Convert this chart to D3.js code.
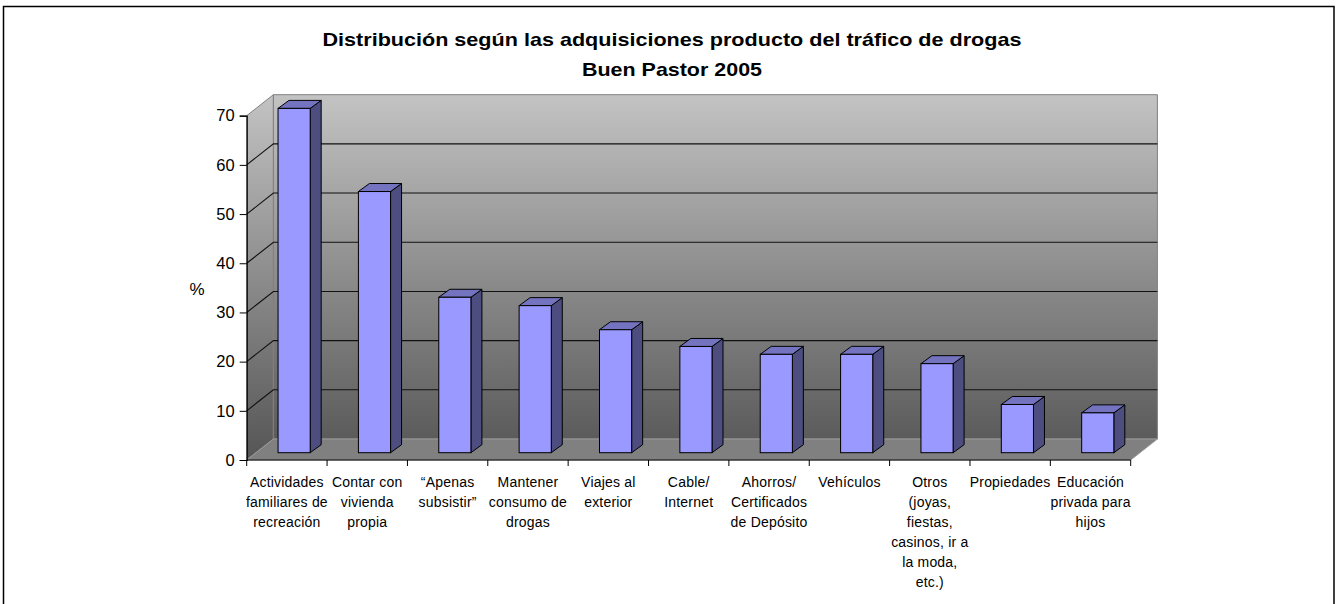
<!DOCTYPE html>
<html>
<head>
<meta charset="utf-8">
<script src="https://cdn.jsdelivr.net/npm/d3@7"></script>
<style>
  html, body { margin: 0; padding: 0; background: #fff; }
  svg { display: block; font-family: "Liberation Sans", Arial, sans-serif; }
</style>
</head>
<body>
<svg id="chart" width="1337" height="604"></svg>
<script>
// ---- Data ----
const titleLines = ["Distribución según las adquisiciones producto del tráfico de drogas", "Buen Pastor 2005"];
const categories = [
  "Actividades familiares de recreación",
  "Contar con vivienda propia",
  "“Apenas subsistir”",
  "Mantener consumo de drogas",
  "Viajes al exterior",
  "Cable/ Internet",
  "Ahorros/ Certificados de Depósito",
  "Vehículos",
  "Otros (joyas, fiestas, casinos, ir a la moda, etc.)",
  "Propiedades",
  "Educación privada para hijos"
];
const categoryLabelLines = [
  ["Actividades", "familiares de", "recreación"],
  ["Contar con", "vivienda", "propia"],
  ["“Apenas", "subsistir”"],
  ["Mantener", "consumo de", "drogas"],
  ["Viajes al", "exterior"],
  ["Cable/", "Internet"],
  ["Ahorros/", "Certificados", "de Depósito"],
  ["Vehículos"],
  ["Otros", "(joyas,", "fiestas,", "casinos, ir a", "la moda,", "etc.)"],
  ["Propiedades"],
  ["Educación", "privada para", "hijos"]
];
const values = [70.0, 53.1, 31.6, 29.9, 25.0, 21.6, 20.0, 20.0, 18.1, 9.8, 8.1];
const yTicks = [0, 10, 20, 30, 40, 50, 60, 70];
const yLabel = "%";

(function () {
// ---- Layout ----
const svg = d3.select("#chart");
const pLeft = 246.7, pRight = 1130.7, pBottom = 460, pTop = 115.7;
const depthX = 26.7, depthY = 21;      // wall depth offset
const barDX = 11, barDY = 8;           // bar depth offset
const barShiftY = -7.3;                // bar front plane offset

const x = d3.scaleBand().domain(categories).range([pLeft, pRight]).paddingInner(0).paddingOuter(0);
const y = d3.scaleLinear().domain([0, 70]).range([pBottom, pTop]);

// Outer frame
svg.append("rect").attr("x", 3.5).attr("y", 6.5).attr("width", 1330.5).attr("height", 700)
  .attr("fill", "none").attr("stroke", "#000").attr("stroke-width", 1.5);

// Gradient for walls
const defs = svg.append("defs");
const g1 = defs.append("linearGradient").attr("id", "wallGrad")
  .attr("gradientUnits", "userSpaceOnUse")
  .attr("x1", 0).attr("y1", y(70) - depthY).attr("x2", 0).attr("y2", y(0));
g1.append("stop").attr("offset", "0%").attr("stop-color", "#c3c3c3");
g1.append("stop").attr("offset", "100%").attr("stop-color", "#555555");

// Left (side) wall
svg.append("path")
  .attr("d", `M${pLeft},${y(0)} L${pLeft},${y(70)} L${pLeft + depthX},${y(70) - depthY} L${pLeft + depthX},${y(0) - depthY} Z`)
  .attr("fill", "url(#wallGrad)").attr("stroke", "#808080").attr("stroke-width", 1);
// Back wall
svg.append("path")
  .attr("d", `M${pLeft + depthX},${y(0) - depthY} L${pLeft + depthX},${y(70) - depthY} L${pRight + depthX},${y(70) - depthY} L${pRight + depthX},${y(0) - depthY} Z`)
  .attr("fill", "url(#wallGrad)").attr("stroke", "#808080").attr("stroke-width", 1);
// Floor
svg.append("path")
  .attr("d", `M${pLeft},${y(0)} L${pRight},${y(0)} L${pRight + depthX},${y(0) - depthY} L${pLeft + depthX},${y(0) - depthY} Z`)
  .attr("fill", "#808080").attr("stroke", "#9a9a9a").attr("stroke-width", 1);

// Gridlines
const grid = svg.append("g");
yTicks.filter(t => t > 0 && t < 70).forEach(t => {
  grid.append("path")
    .attr("d", `M${pLeft},${y(t)} L${pLeft + depthX},${y(t) - depthY} L${pRight + depthX},${y(t) - depthY}`)
    .attr("fill", "none").attr("stroke", "#111").attr("stroke-width", 1.1);
});

// Bars
const bw = x.bandwidth();
const barOff = bw * 0.39, barW = bw * 0.40;
const bars = svg.append("g").selectAll("g").data(categories.map((c, i) => ({ c, v: values[i] }))).join("g");
bars.each(function(d) {
  const g = d3.select(this);
  const x0 = x(d.c) + barOff, x1 = x0 + barW;
  const yb = y(0) + barShiftY, yt = y(d.v) + barShiftY;
  g.append("path")
    .attr("d", `M${x1},${yb} L${x1},${yt} L${x1 + barDX},${yt - barDY} L${x1 + barDX},${yb - barDY} Z`)
    .attr("fill", "#4d4d80").attr("stroke", "#000").attr("stroke-width", 1).attr("stroke-linejoin", "round");
  g.append("path")
    .attr("d", `M${x0},${yt} L${x0 + barDX},${yt - barDY} L${x1 + barDX},${yt - barDY} L${x1},${yt} Z`)
    .attr("fill", "#7373bf").attr("stroke", "#000").attr("stroke-width", 1).attr("stroke-linejoin", "round");
  g.append("rect").attr("x", x0).attr("y", yt).attr("width", barW).attr("height", yb - yt)
    .attr("fill", "#9999ff").attr("stroke", "#000").attr("stroke-width", 1);
});

// Y axis
const yAxis = d3.axisLeft(y).tickValues(yTicks).tickSize(7).tickPadding(5).tickFormat(d3.format("d"));
const ya = svg.append("g").attr("transform", `translate(${pLeft},0)`).call(yAxis);
ya.select(".domain").attr("stroke", "#000").attr("stroke-width", 1.2);
ya.selectAll(".tick line").attr("stroke", "#000");
ya.selectAll(".tick text").attr("font-size", 16.5).attr("fill", "#000")
  .attr("font-family", "'Liberation Sans', Arial, sans-serif");

// X axis
const xTickPos = categories.map(c => x(c)).concat([pRight]);
const xa = svg.append("g");
xa.append("line").attr("x1", pLeft).attr("x2", pRight).attr("y1", pBottom).attr("y2", pBottom)
  .attr("stroke", "#000").attr("stroke-width", 1.2);
xa.selectAll("line.tk").data(xTickPos).join("line").attr("class", "tk")
  .attr("x1", d => d).attr("x2", d => d).attr("y1", pBottom).attr("y2", pBottom + 6)
  .attr("stroke", "#000");

// Category labels
const labels = svg.append("g").attr("font-size", 14).attr("fill", "#000")
  .attr("text-anchor", "middle").attr("letter-spacing", 0.2);
categories.forEach((c, i) => {
  const t = labels.append("text").attr("x", x(c) + bw / 2).attr("y", 486.5);
  categoryLabelLines[i].forEach((ln, j) => {
    t.append("tspan").attr("x", x(c) + bw / 2).attr("dy", j === 0 ? 0 : 20).text(ln);
  });
});

// Y label
svg.append("text").attr("x", 197).attr("y", 295).attr("text-anchor", "middle")
  .attr("font-size", 17).text(yLabel);

// Title
svg.append("text").attr("x", 672).attr("y", 45.5).attr("text-anchor", "middle")
  .attr("font-size", 19).attr("font-weight", "bold")
  .attr("textLength", 699).attr("lengthAdjust", "spacingAndGlyphs").text(titleLines[0]);
svg.append("text").attr("x", 672).attr("y", 76).attr("text-anchor", "middle")
  .attr("font-size", 19).attr("font-weight", "bold")
  .attr("textLength", 180).attr("lengthAdjust", "spacingAndGlyphs").text(titleLines[1]);
})();
</script>
</body>
</html>
